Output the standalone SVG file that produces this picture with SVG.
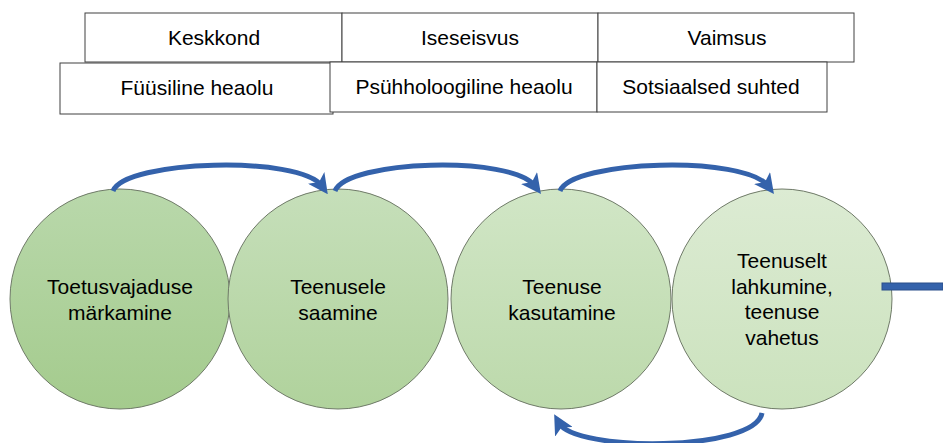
<svg xmlns="http://www.w3.org/2000/svg" width="943" height="443" viewBox="0 0 943 443">
<defs>
<style>
.box{fill:#ffffff;stroke:#404040;stroke-width:1}
.bt{font-family:"Liberation Sans","Noto Sans",sans-serif;font-size:21px;fill:#000;text-anchor:middle}
.circ{stroke:#6f7a68;stroke-width:1}
.ct{font-family:"Liberation Sans","Noto Sans",sans-serif;font-size:21px;fill:#000;text-anchor:middle}
.arc{fill:none;stroke:#3462ab;stroke-width:5}
</style>
<linearGradient id="g1" x1="0" y1="0" x2="0" y2="1"><stop offset="0" stop-color="#b9d8ab"/><stop offset="1" stop-color="#a4cb8d"/></linearGradient>
<linearGradient id="g2" x1="0" y1="0" x2="0" y2="1"><stop offset="0" stop-color="#c6dfba"/><stop offset="1" stop-color="#b0d29c"/></linearGradient>
<linearGradient id="g3" x1="0" y1="0" x2="0" y2="1"><stop offset="0" stop-color="#d1e6c6"/><stop offset="1" stop-color="#bcd9ab"/></linearGradient>
<linearGradient id="g4" x1="0" y1="0" x2="0" y2="1"><stop offset="0" stop-color="#dcebd3"/><stop offset="1" stop-color="#cbe2bd"/></linearGradient>
<marker id="ah" markerWidth="4" markerHeight="4" refX="2" refY="2" orient="auto" markerUnits="strokeWidth">
<path d="M0,0 L4,2 L0,4 L1,2 Z" fill="#3462ab"/>
</marker>
</defs>
<g id="box-keskkond"><rect class="box" x="85" y="13" width="257" height="49"/><text class="bt" x="214" y="45">Keskkond</text></g>
<g id="box-iseseisvus"><rect class="box" x="342" y="13" width="256" height="49"/><text class="bt" x="470" y="45">Iseseisvus</text></g>
<g id="box-vaimsus"><rect class="box" x="598" y="13" width="256" height="49"/><text class="bt" x="727" y="45">Vaimsus</text></g>
<g id="box-fuusiline"><rect class="box" x="60" y="63" width="273" height="51"/><text class="bt" x="197" y="95">Füüsiline heaolu</text></g>
<g id="box-psuhholoogiline"><rect class="box" x="330" y="62" width="267" height="50"/><text class="bt" x="464" y="94">Psühholoogiline heaolu</text></g>
<g id="box-sotsiaalsed"><rect class="box" x="597" y="62" width="230" height="50"/><text class="bt" x="711" y="94">Sotsiaalsed suhted</text></g>
<g id="n1"><circle class="circ" cx="120" cy="299" r="110" fill="url(#g1)"/><text class="ct" x="120" y="294">Toetusvajaduse</text><text class="ct" x="120" y="320">märkamine</text></g>
<g id="n2"><circle class="circ" cx="338" cy="299" r="110" fill="url(#g2)"/><text class="ct" x="338" y="294">Teenusele</text><text class="ct" x="338" y="320">saamine</text></g>
<g id="n3"><circle class="circ" cx="561" cy="299" r="110" fill="url(#g3)"/><text class="ct" x="562" y="294">Teenuse</text><text class="ct" x="562" y="320">kasutamine</text></g>
<g id="n4"><circle class="circ" cx="782" cy="299" r="110" fill="url(#g4)"/><text class="ct" x="782" y="268">Teenuselt</text><text class="ct" x="782" y="294">lahkumine,</text><text class="ct" x="782" y="319">teenuse</text><text class="ct" x="782" y="345">vahetus</text></g>
<g id="connectors">
<path class="arc" d="M113,191 C125,160 300,155 322,186" marker-end="url(#ah)"/>
<path class="arc" d="M335,191 C347,160 512,155 535,186" marker-end="url(#ah)"/>
<path class="arc" d="M560,191 C572,160 745,155 768,186" marker-end="url(#ah)"/>
<path class="arc" d="M762,413 C755,452 575,452 559,423" marker-end="url(#ah)"/>
<rect x="882" y="283" width="61" height="7" fill="#3462ab" stroke="#2a4f8a" stroke-width="1"/>
</g>
</svg>
